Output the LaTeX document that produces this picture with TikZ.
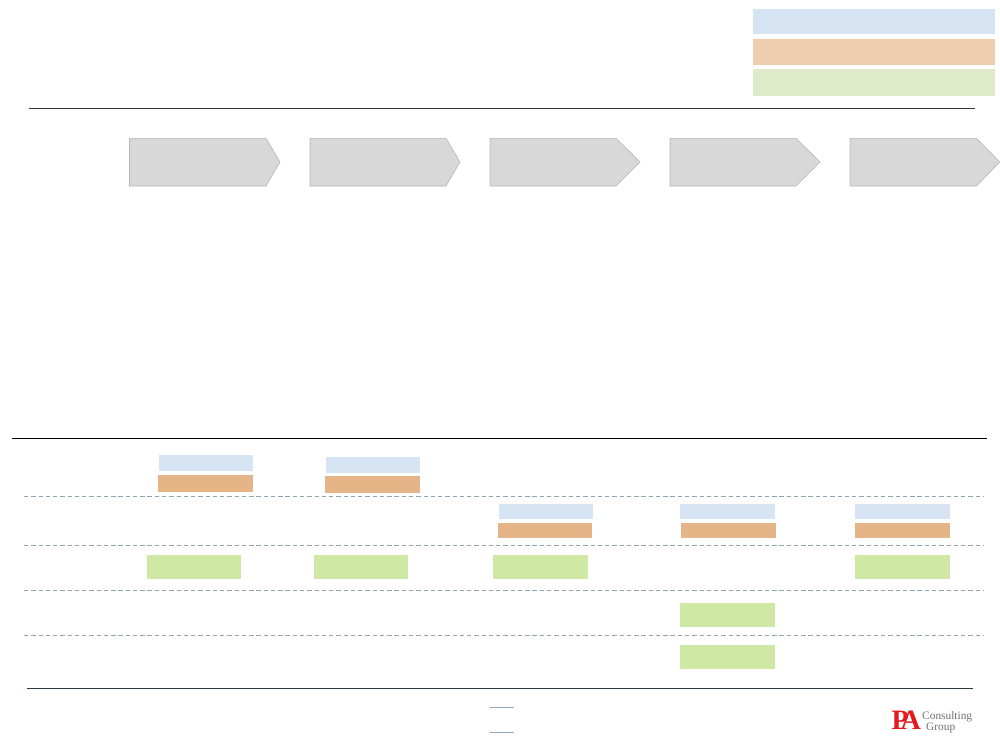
\documentclass[tikz,border=0pt]{standalone}
\usepackage{fontspec}
\setmainfont{Liberation Serif}
\usetikzlibrary{calc,positioning}
\definecolor{LegendBlue}{HTML}{D6E3F3}
\definecolor{LegendOrange}{HTML}{EFCDB0}
\definecolor{LegendGreen}{HTML}{DFEBC8}
\definecolor{BarBlue}{HTML}{D7E4F4}
\definecolor{BarOrange}{HTML}{E5B587}
\definecolor{BarGreen}{HTML}{CFE9A5}
\definecolor{RuleDark}{HTML}{2B3A42}
\definecolor{RuleDash}{HTML}{8FA6B5}
\definecolor{StageFill}{HTML}{D8D8D8}
\definecolor{StageEdge}{HTML}{B5B5B5}
\definecolor{LogoRed}{HTML}{E4181F}
\definecolor{LogoGrey}{HTML}{6E6E6E}
\tikzset{
  stagearrow/.style={fill=StageFill,draw=StageEdge,line width=0.5pt},
  rowdash/.style={RuleDash,line width=0.7pt,dash pattern=on 3.7pt off 2.5pt},
  logotext/.style={anchor=west,inner sep=0pt,text=LogoGrey,font=\fontsize{9.7}{9.7}\selectfont},
}
\begin{document}
\begin{tikzpicture}[x=0.03cm,y=-0.03cm]
    \useasboundingbox (0,0) rectangle (1000,750);
    % legend and bars: name/left/top/width/height/colour
    \foreach \name/\x/\y/\w/\h/\col in {
      legendA/753/9/242/25/LegendBlue,legendB/753/39/242/26/LegendOrange,legendC/753/69/242/27/LegendGreen,
      blueA/159/455/94/16/BarBlue,orangeA/158/475/95/17/BarOrange,greenA/147/555/94/24/BarGreen,
      blueB/326/457/94/16/BarBlue,orangeB/325/476/95/17/BarOrange,greenB/314/555/94/24/BarGreen,
      blueC/499/504/94/15/BarBlue,orangeC/498/523/94/15/BarOrange,greenC/493/555/95/24/BarGreen,
      blueD/680/504/95/15/BarBlue,orangeD/681/523/95/15/BarOrange,greenD/680/603/95/24/BarGreen,greenE/680/645/95/24/BarGreen,
      blueE/855/504/95/15/BarBlue,orangeE/855/523/95/15/BarOrange,greenF/855/555/95/24/BarGreen}{%
      \fill[\col] (\x,\y) rectangle ++(\w,\h) node[pos=0.5,inner sep=0pt] (\name) {};
    }
    % process arrows
    \foreach \x/\shoulder/\tip in {129.5/266/280,310/446/460,490/616/640,670/796/820,850/976.5/999.7}{%
      \draw[stagearrow] (\x,138.3) -- (\shoulder,138.3) -- (\tip,162) -- (\shoulder,186) -- (\x,186) -- cycle;
    }
    % rules
    \coordinate (topL) at (29,108);
    \coordinate (topR) at (975,108);
    \coordinate (midL) at (12,438.5);
    \coordinate (midR) at (987,438.5);
    \coordinate (botL) at (27,688);
    \coordinate (botR) at (973,688);
    \draw[RuleDark,line width=0.6pt] (topL) -- (topR);
    \draw[black,line width=0.8pt] (midL) -- (midR);
    \draw[RuleDark,line width=0.6pt] (botL) -- (botR);
    \foreach \y in {496,545,590,635}{%
      \coordinate (dashL\y) at (24,\y);
      \coordinate (dashR\y) at (983.5,\y);
      \draw[rowdash] (dashL\y) -- (dashR\y);
    }
    \foreach \y in {707,732}{%
      \coordinate (keyL\y) at (490,\y);
      \coordinate (keyR\y) at (513.5,\y);
      \draw[RuleDash,line width=0.7pt] (keyL\y) -- (keyR\y);
    }
    % logo
    \node[anchor=base west,inner sep=0pt,text=LogoRed,font=\fontsize{24}{24}\selectfont\bfseries] (logoPA) at (891.5,729) {P\kern-7ptA};
    \node[logotext,anchor=base west] (logoTop) at (922,719) {Consulting};
    \node[logotext,anchor=base west] (logoBot) at (926,730) {Group};
\end{tikzpicture}
\end{document}
